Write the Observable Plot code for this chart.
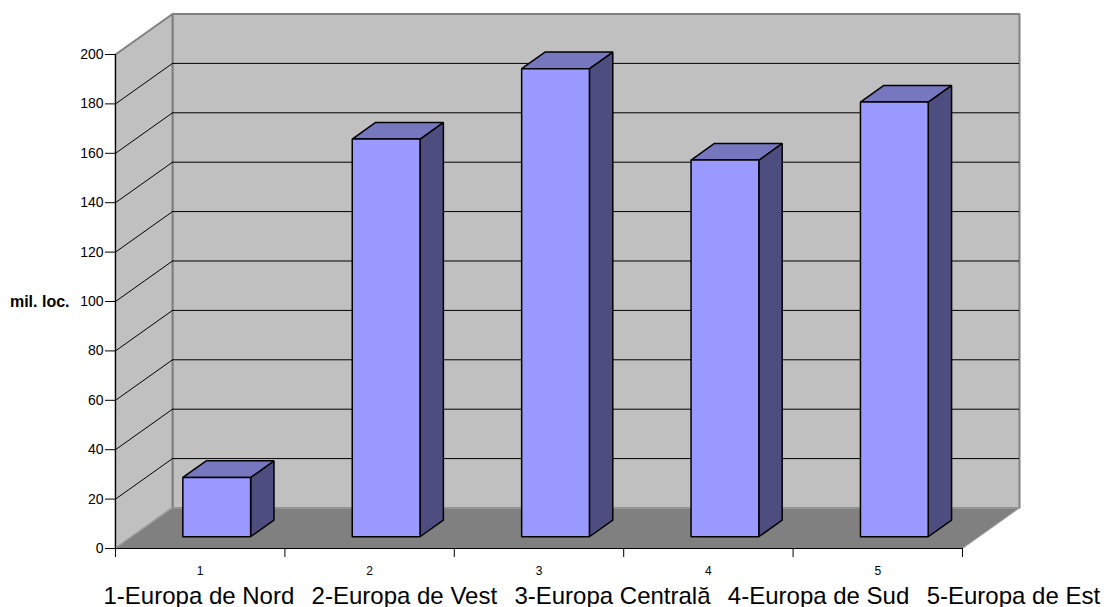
<!DOCTYPE html>
<html>
<head>
<meta charset="utf-8">
<script src="https://cdn.jsdelivr.net/npm/d3@7"></script>
<script src="https://cdn.jsdelivr.net/npm/@observablehq/plot@0.6"></script>
<style>
  html, body { margin: 0; padding: 0; background: #ffffff; }
  #chart { width: 1115px; height: 607px; }
</style>
</head>
<body>
<div id="chart"></div>
<script>
// ---- data ----
const categories = ["1-Europa de Nord", "2-Europa de Vest", "3-Europa Centrală", "4-Europa de Sud", "5-Europa de Est"];
const tickLabels = ["1", "2", "3", "4", "5"];
const values = [24, 161, 189.5, 152.5, 176];
const yTicks = [0, 20, 40, 60, 80, 100, 120, 140, 160, 180, 200];
const yLabel = "mil. loc.";

// ---- 3D projection constants (in scale units) ----
const DX = 0.3365;   // depth shift along x (category units)
const DY = 16.4;     // depth shift along y (value units)
const F0 = 0.29, F1 = 0.70; // bar front / back depth fraction
const BW = 0.4;      // bar width (category units)
const N = categories.length;
const YMAX = yTicks[yTicks.length - 1];

const poly = (id, pts) => pts.map(([x, y]) => ({id, x, y}));

const backWall = poly("back", [[DX, DY], [N + DX, DY], [N + DX, YMAX + DY], [DX, YMAX + DY]]);
const sideWall = poly("side", [[0, 0], [DX, DY], [DX, YMAX + DY], [0, YMAX]]);
const floor = poly("floor", [[0, 0], [N, 0], [N + DX, DY], [DX, DY]]);

const fronts = [], tops = [], sides = [];
values.forEach((v, i) => {
  const x0 = i + (1 - BW) / 2 + F0 * DX, x1 = x0 + BW;
  const y0 = F0 * DY, y1 = v + F0 * DY;
  const ddx = (F1 - F0) * DX, ddy = (F1 - F0) * DY;
  fronts.push(...poly("f" + i, [[x0, y0], [x1, y0], [x1, y1], [x0, y1]]));
  tops.push(...poly("t" + i, [[x0, y1], [x1, y1], [x1 + ddx, y1 + ddy], [x0 + ddx, y1 + ddy]]));
  sides.push(...poly("s" + i, [[x1, y0], [x1 + ddx, y0 + ddy], [x1 + ddx, y1 + ddy], [x1, y1]]));
});

const gridVals = yTicks.filter(v => v > 0 && v < YMAX);
const shape = (data, fill, stroke, sw) =>
  Plot.line(data, {x: "x", y: "y", z: "id", curve: "linear-closed", fill, stroke, strokeWidth: sw, strokeLinejoin: "miter"});

const chart = Plot.plot({
  width: 1115,
  height: 607,
  marginLeft: 115,
  marginRight: 153,
  marginTop: 54,
  marginBottom: 59,
  x: {domain: [0, N], axis: null},
  y: {domain: [0, YMAX], axis: null},
  style: {fontFamily: "'Liberation Sans', Arial, sans-serif", background: "#ffffff", overflow: "visible", color: "#000"},
  marks: [
    shape(backWall, "#c0c0c0", "#808080", 2),
    shape(sideWall, "#c0c0c0", "#808080", 2),
    shape(floor, "#808080", "#a6a6a6", 1),
    Plot.ruleY(gridVals, {y: d => d + DY, x1: DX, x2: N + DX, stroke: "#000", strokeWidth: 1}),
    Plot.link(gridVals, {x1: 0, y1: d => d, x2: DX, y2: d => d + DY, stroke: "#000", strokeWidth: 1}),
    Plot.ruleX([0], {y1: 0, y2: YMAX, stroke: "#000", strokeWidth: 1}),
    Plot.ruleY([0], {x1: 0, x2: N, stroke: "#000", strokeWidth: 1}),
    Plot.axisY(yTicks, {anchor: "left", label: null, tickSize: 10, tickPadding: 2, fontSize: 14, stroke: "#000"}),
    Plot.axisX(d3.range(N + 1), {anchor: "bottom", label: null, tickSize: 9, tickFormat: () => "", stroke: "#000"}),
    shape(sides, "#4d4d80", "#000", 1.5),
    shape(tops, "#7777bf", "#000", 1.5),
    shape(fronts, "#9999ff", "#000", 1.5),
    Plot.text(tickLabels, {x: (d, i) => i + 0.5, y: 0, dy: 23, text: d => d, fontSize: 12, fill: "#000"}),
    Plot.text([yLabel], {x: 0, y: 100, dx: -46, text: d => d, textAnchor: "end", fontSize: 16, fontWeight: "bold", fill: "#000"}),
    Plot.text([categories.join("\u00a0\u00a0\u2006")], {x: 0, y: 0, dx: -12, dy: 48, text: d => d, textAnchor: "start", fontSize: 24, fill: "#000"})
  ]
});
document.getElementById("chart").appendChild(chart);
</script>
</body>
</html>
